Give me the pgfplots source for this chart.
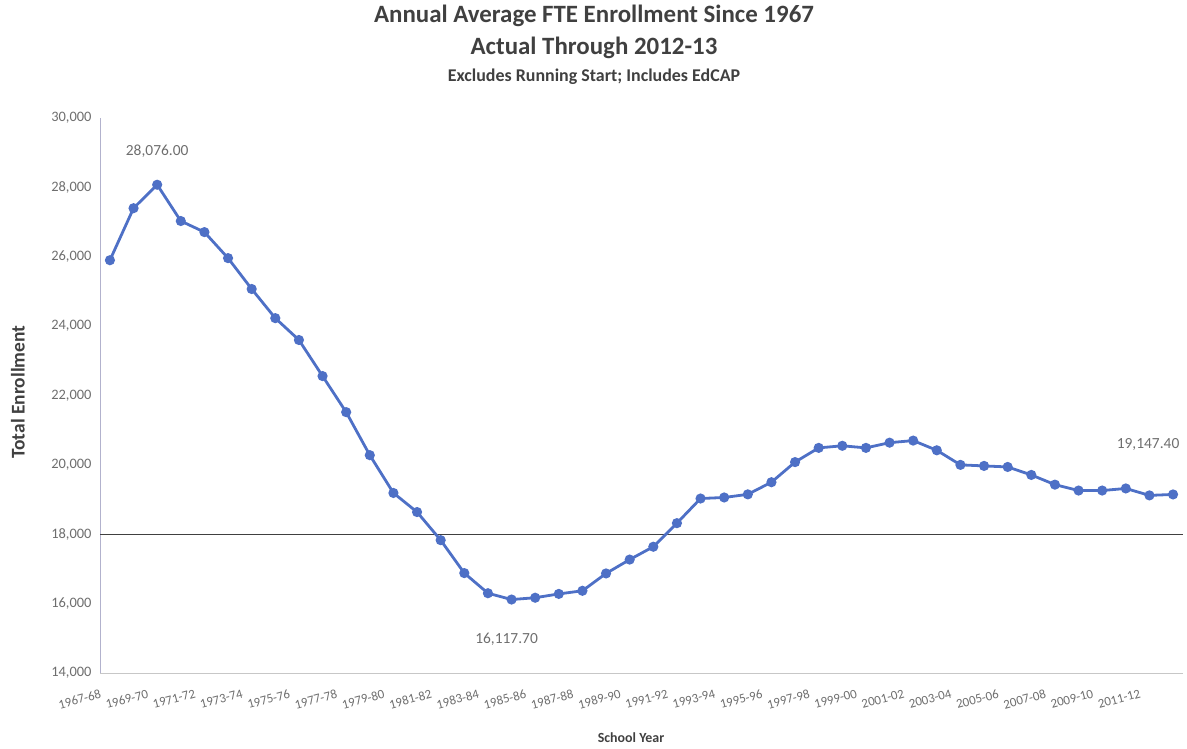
\documentclass[border=0pt]{standalone}
\usepackage{pgfplots}
\pgfplotsset{compat=1.18}
\usepackage{pgfplotstable}
\usepackage{fontspec}
\setmainfont{Carlito}

\definecolor{serie}{RGB}{78,112,198}
\definecolor{titlegray}{RGB}{64,64,64}
\definecolor{tickgray}{RGB}{110,110,110}

% Annual average FTE enrollment, 1967-68 (0) through 2012-13 (45)
\pgfplotstableread{
idx fte
0  25900
1  27400
2  28076
3  27030
4  26710
5  25960
6  25070
7  24230
8  23600
9  22560
10 21520
11 20280
12 19190
13 18640
14 17830
15 16880
16 16300
17 16117.7
18 16170
19 16280
20 16370
21 16870
22 17270
23 17640
24 18320
25 19030
26 19060
27 19150
28 19500
29 20080
30 20490
31 20550
32 20490
33 20640
34 20700
35 20420
36 20000
37 19970
38 19940
39 19710
40 19430
41 19260
42 19260
43 19320
44 19120
45 19147.4
}\fte

\begin{document}
\begin{tikzpicture}
\path[use as bounding box] (0,0) rectangle (1187bp,749bp);

% titles
\node[anchor=base, font=\bfseries\fontsize{25}{28}\selectfont, text=titlegray]
  at (594bp,726bp) {Annual Average FTE Enrollment Since 1967};
\node[anchor=base, font=\bfseries\fontsize{25}{28}\selectfont, text=titlegray]
  at (594bp,694bp) {Actual Through 2012-13};
\node[anchor=base, font=\bfseries\fontsize{18}{21}\selectfont, text=titlegray]
  at (594bp,667bp) {Excludes Running Start; Includes EdCAP};

\begin{axis}[
  at={(100bp,76bp)}, anchor=south west,
  width=1083bp, height=555bp, scale only axis,
  xmin=-0.42, xmax=45.42,
  ymin=14000, ymax=30000,
  ytick={14000,16000,...,30000},
  scaled y ticks=false,
  xtick={0,2,...,44},
  xticklabels={1967-68,1969-70,1971-72,1973-74,1975-76,1977-78,1979-80,1981-82,1983-84,1985-86,1987-88,1989-90,1991-92,1993-94,1995-96,1997-98,1999-00,2001-02,2003-04,2005-06,2007-08,2009-10,2011-12},
  axis lines=left,
  axis line style={-},
  x axis line style={draw=black!22},
  y axis line style={draw=blue!35!black!30},
  major tick length=0pt,
  /pgf/number format/assume math mode=true,
  /pgf/number format/.cd, fixed, 1000 sep={,},
  /pgfplots/.cd,
  yticklabel style={font=\fontsize{14.5}{16}\selectfont, text=tickgray, xshift=-5bp},
  xticklabel style={font=\fontsize{13}{15}\selectfont, text=tickgray,
    xshift=-8bp, yshift=-12bp, rotate=15, anchor=north east},
  clip=false,
]
% reference line at 18,000
\addplot[black!75, line width=0.9bp, forget plot] coordinates {(-0.42,18000) (45.42,18000)};

\addplot[serie, line width=2.8bp, mark=*, mark size=3.6bp,
  mark options={fill=serie, draw=serie}] table[x=idx, y=fte] {\fte};

\node[font=\fontsize{15.5}{17}\selectfont, text=tickgray, yshift=34bp]
  at (axis cs:2,28076) {28,076.00};
\node[font=\fontsize{15.5}{17}\selectfont, text=tickgray, yshift=-40bp, xshift=-5bp]
  at (axis cs:17,16117.7) {16,117.70};
\node[font=\fontsize{15.5}{17}\selectfont, text=tickgray, yshift=50bp, xshift=-25bp]
  at (axis cs:45,19147.4) {19,147.40};
\end{axis}

% axis titles
\node[anchor=base, font=\bfseries\fontsize{14}{16}\selectfont, text=titlegray]
  at (631bp,7bp) {School Year};
\node[rotate=90, font=\bfseries\fontsize{19.5}{22}\selectfont, text=titlegray]
  at (18bp,357bp) {Total Enrollment};
\end{tikzpicture}
\end{document}
